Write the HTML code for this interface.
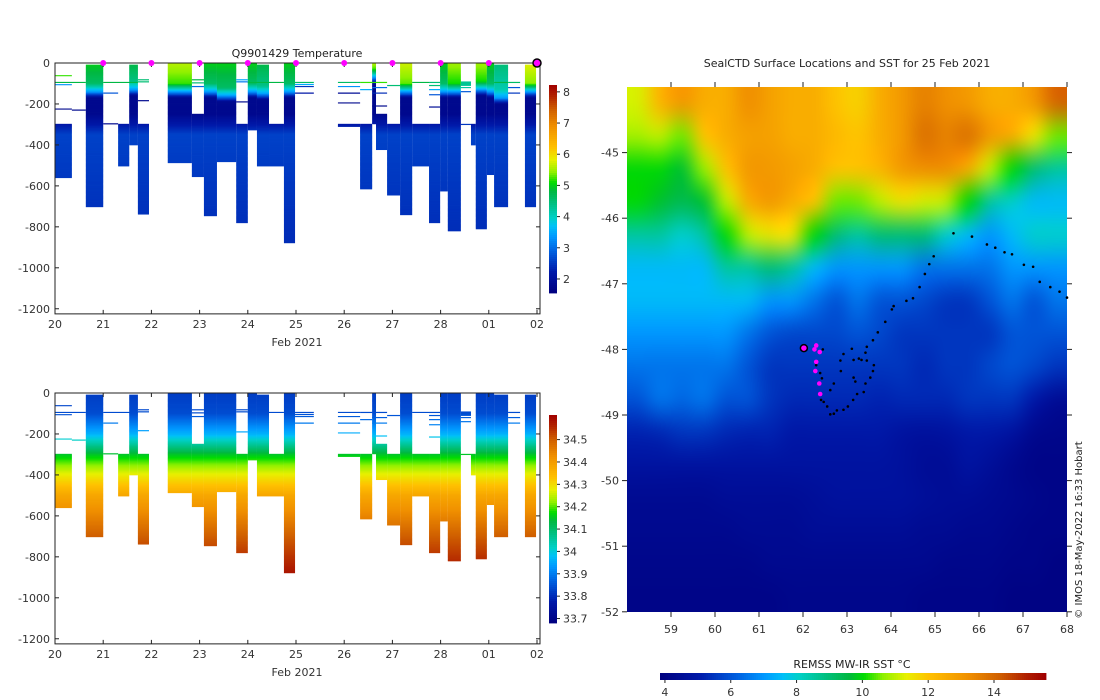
<!DOCTYPE html>
<html><head><meta charset="utf-8"><style>
html,body{margin:0;padding:0;background:#fff;}
svg{display:block;font-family:"DejaVu Sans","Liberation Sans",sans-serif;}
</style></head><body>
<svg id="s" width="1100" height="700" xmlns="http://www.w3.org/2000/svg"></svg>
<script>
// ---------- DATA ----------
const dayTicks=["20","21","22","23","24","25","26","27","28","01","02"];
const depthTicks=[0,-200,-400,-600,-800,-1000,-1200];
const tempTicks=[2,3,4,5,6,7,8];
const salTicks=[33.7,33.8,33.9,34,34.1,34.2,34.3,34.4,34.5];
const sstTicks=[4,6,8,10,12,14];
const lonTicks=[59,60,61,62,63,64,65,66,67,68];
const latTicks=[-45,-46,-47,-48,-49,-50,-51,-52];
// profile columns: start day, end day, top depth, bottom depth, surface temp, mixed layer depth
const colStart=[0.01,0.64,1.31,1.54,1.72,2.34,2.84,3.09,3.36,3.76,4.0,4.19,4.44,4.75,5.87,6.33,6.58,6.66,6.89,7.16,7.41,7.76,7.99,8.15,8.42,8.63,8.73,8.96,9.11,9.75];
const colEnd=[0.35,1.0,1.54,1.72,1.95,2.84,3.09,3.36,3.76,4.0,4.19,4.44,4.75,4.98,6.33,6.58,6.66,6.89,7.16,7.41,7.76,7.99,8.15,8.42,8.63,8.73,8.96,9.11,9.40,9.98];
const colTop=[297,8,297,8,297,0,248,0,0,297,0,8,297,0,297,297,0,248,297,0,297,297,0,0,90,297,0,0,8,8];
const colBot=[560,702,503,400,738,487,555,746,482,780,327,503,503,878,310,615,297,423,645,741,503,780,625,820,110,400,810,545,702,702];
const colSurfT=[2.4,5.0,2.4,4.8,2.4,5.6,2.4,5.0,5.0,2.4,5.0,4.8,2.4,5.0,2.4,2.4,5.6,2.4,2.4,5.7,2.4,2.4,5.0,5.5,4.5,2.4,5.5,5.0,4.5,5.8];
const colMld=[100,100,100,90,100,100,100,100,120,100,100,110,100,100,100,100,30,100,100,100,100,100,100,100,200,100,90,100,130,100];
// partial profiles (thin lines): start day, end day, depth, temp
const lnStart=[0.01,0.01,0.01,0.35,0.01,1.0,1.0,1.0,1.72,1.72,1.72,2.84,2.84,2.84,3.76,3.76,3.76,4.0,4.98,4.98,4.98,4.98,5.87,5.87,5.87,5.87,6.33,6.33,6.58,6.58,6.58,6.58,6.89,7.41,7.76,7.76,7.76,7.76,7.76,8.42,8.42,8.42,9.11,9.40,9.40,9.40];
const lnEnd=[0.35,0.64,0.35,0.64,0.35,1.31,1.72,1.31,1.95,1.95,1.95,3.09,3.09,3.09,4.0,4.0,4.0,4.75,5.37,5.37,5.37,5.37,6.33,6.33,6.33,6.33,6.58,6.58,6.89,6.89,6.89,6.89,7.16,7.76,7.99,7.99,7.99,7.99,7.99,8.63,8.63,8.63,9.40,9.65,9.65,9.65];
const lnDepth=[62,95,106,230,225,147,95,297,82,92,184,82,97,115,82,92,190,95,95,105,115,147,95,115,147,195,130,95,95,120,147,210,110,95,95,110,130,155,215,120,140,300,95,95,120,147];
const lnTemp=[5.2,4.8,3.3,1.8,1.8,2.8,4.8,1.8,4.5,4.5,1.8,4.8,4.5,3.0,3.5,3.1,1.8,4.8,4.6,3.5,2.5,2.2,4.6,3.3,1.9,1.8,3.5,5.2,5.2,3.0,2.4,1.8,4.5,4.8,4.5,4.5,3.5,2.8,1.9,4.2,2.8,2.5,4.8,4.6,2.8,2.5];
// salinity structure
const salDepth=[0,100,200,300,400,500,700,880];
const salVal=[33.82,33.84,33.96,34.15,34.28,34.38,34.5,34.58];
const markDays=[1,2,3,4,5,6,7,8,9];
const lastDay=[10];
// SST grid rows lat -44.25..-51.75, cols lon 58.25..67.75
const sst=[
[11.2,12.3,13,12.5,12.5,13.2,12.8,12.5,12.5,12,11.8,12.5,13,13.5,13.2,13,12.5,12.5,13,14],
[10.8,11,10.5,12,12.5,12.8,12.8,12.5,12.5,12.2,12,12.5,13,13.8,13.5,13.8,13,12.5,11.5,10.5],
[10,10,9.7,10.7,12,13,13,12.8,12.5,12,12,12.3,13,13.2,13.2,12.5,11,10,9,8.5],
[10,9.7,9.4,9.7,11,12.5,13,12.5,12,10.5,10.5,11,11.5,11.2,11,10,8.5,8,7.5,7.5],
[8.5,8.5,8,8.5,10,11,11.5,11.5,10,9,8.5,9,9,9,8,7.5,7,7.5,8,8],
[7.5,7.5,7.5,7.5,8.5,8.5,9,8.5,7.5,7,7,7,7,6.5,6.5,6.5,6.5,7,7,7],
[7.5,7.5,7.5,7.5,7.5,7.5,7,7,6.5,6,6.5,6,6,5.8,5.5,5.5,6,6.5,6,6.5],
[7,7,7,7,7,6.5,6,5.8,5.8,5.8,6,5.8,5.5,5.5,5.5,5.5,5.5,6,6,6],
[6.5,6.5,6.5,6.5,6.5,6,5.5,5.5,5.5,5.5,5.5,5.5,5.5,5.3,5.5,5.5,5.8,6,5.8,5.5],
[6,6.5,6.3,6.5,6,6,5.5,5.3,5.3,5.3,5.3,5.2,5.3,5.3,5.3,5.5,5.5,5.5,5,4.5],
[5.2,5.3,5.5,5.5,5.3,5.2,5.2,5,5,5,5,5,4.8,4.7,4.8,5,5,4.8,4.3,4.2],
[4.8,4.8,4.8,4.8,4.8,4.8,4.8,4.8,4.8,4.8,4.8,4.8,4.7,4.5,4.5,4.8,4.6,4.3,4.1,4.1],
[4.4,4.4,4.4,4.4,4.5,4.5,4.5,4.5,4.6,4.7,4.7,4.7,4.7,4.6,4.5,4.5,4.4,4.3,4.2,4.1],
[4.3,4.3,4.3,4.3,4.3,4.4,4.4,4.4,4.5,4.5,4.5,4.5,4.5,4.4,4.4,4.3,4.3,4.2,4.1,4.1],
[4.2,4.2,4.2,4.2,4.2,4.2,4.3,4.3,4.3,4.3,4.3,4.3,4.3,4.3,4.2,4.2,4.2,4.1,4.1,4.0],
[4.1,4.1,4.1,4.1,4.1,4.1,4.1,4.2,4.2,4.2,4.2,4.2,4.2,4.1,4.1,4.1,4.1,4.0,4.0,4.0]];
const trackLon=[65.42,65.84,66.18,66.37,66.58,66.75,67.02,67.23,67.38,67.62,67.83,68.0,64.97,64.87,64.77,64.65,64.50,64.35,64.06,64.02,63.87,63.70,63.59,63.45,63.42,63.33,63.11,62.92,62.85,62.86,63.15,63.27,63.45,63.61,63.59,63.53,63.42,63.38,63.23,63.14,63.02,62.92,62.77,62.70,62.62,62.55,62.47,62.41,62.62,62.70,62.43,62.39,62.30,62.45,63.15,63.19];
const trackLat=[-46.23,-46.28,-46.40,-46.45,-46.52,-46.55,-46.71,-46.74,-46.97,-47.05,-47.12,-47.21,-46.58,-46.70,-46.85,-47.05,-47.22,-47.26,-47.34,-47.39,-47.58,-47.74,-47.86,-47.96,-48.05,-48.16,-47.99,-48.07,-48.17,-48.33,-48.16,-48.14,-48.17,-48.24,-48.33,-48.43,-48.52,-48.65,-48.68,-48.77,-48.87,-48.92,-48.93,-48.98,-48.99,-48.87,-48.80,-48.77,-48.62,-48.52,-48.44,-48.36,-48.24,-48.00,-48.43,-48.49];
const magLon=[62.30,62.26,62.38,62.30,62.28,62.37,62.39];
const magLat=[-47.94,-48.00,-48.04,-48.19,-48.33,-48.52,-48.68];
const lastLon=[62.02], lastLat=[-47.98];

// ---------- HELPERS ----------
const NS="http://www.w3.org/2000/svg";
const svg=document.getElementById('s');
function el(tag,attrs,parent){const e=document.createElementNS(NS,tag);for(const k in attrs)e.setAttribute(k,attrs[k]);(parent||svg).appendChild(e);return e;}
const stops=[[0,[0,0,127]],[0.1,[0,24,168]],[0.2,[0,96,224]],[0.27,[0,152,255]],[0.32,[0,192,248]],[0.36,[0,208,200]],[0.43,[0,192,128]],[0.49,[0,184,64]],[0.53,[0,220,0]],[0.58,[144,240,0]],[0.64,[232,240,0]],[0.70,[255,192,0]],[0.8,[240,144,0]],[0.88,[208,96,0]],[0.95,[176,32,0]],[1,[160,0,0]]];
function cmapRGB(t){t=Math.max(0,Math.min(1,t));for(let i=1;i<stops.length;i++){if(t<=stops[i][0]){const a=stops[i-1],b=stops[i];const f=(t-a[0])/(b[0]-a[0]);return a[1].map((v,j)=>Math.round(v+(b[1][j]-v)*f));}}return stops[stops.length-1][1];}
function cmap(t){const c=cmapRGB(t);return `rgb(${c[0]},${c[1]},${c[2]})`;}
function interp(xs,ys,x){if(x<=xs[0])return ys[0];for(let i=1;i<xs.length;i++){if(x<=xs[i]){const f=(x-xs[i-1])/(xs[i]-xs[i-1]);return ys[i-1]+(ys[i]-ys[i-1])*f;}}return ys[ys.length-1];}
function tempAt(z,sT,mld){
  if(z<mld) return sT-0.4*z/mld;
  if(z<mld+40) return (sT-0.4)+(3.4-(sT-0.4))*(z-mld)/40;
  if(z<mld+70) return 3.4+(1.8-3.4)*(z-mld-40)/30;
  if(z<250) return 1.8;
  if(z<350) return 1.8+0.8*(z-250)/100;
  return 2.6-0.2*Math.min(1,(z-350)/500);
}
function txt(x,y,s,attrs,parent){const t=el('text',Object.assign({x:x,y:y,'font-size':11,fill:'#333'},attrs||{}),parent);t.textContent=s;return t;}

// ---------- DEPTH CHARTS ----------
const X0=55,XPD=48.2;
function xDay(d){return X0+d*XPD;}
function makeChart(top,kind,name){
  const g=el('g',{});
  
  
  const yD=z=>top+z*0.2048;
  const tmin=kind==='T'?1.55:33.68, tmax=kind==='T'?8.22:34.61;
  const val=(z,i)=>kind==='T'?tempAt(z,colSurfT[i],colMld[i]):interp(salDepth,salVal,z);
  for(let i=0;i<colStart.length;i++){
    const cg=el('g',{},g);
    
    
    const x0=xDay(colStart[i]),x1=xDay(colEnd[i]);
    for(let z=colTop[i];z<colBot[i];z+=6){
      const z2=Math.min(z+6,colBot[i]);
      el('rect',{x:x0,y:yD(z),width:x1-x0,height:yD(z2)-yD(z)+0.4,fill:cmap((val(z+3,i)-tmin)/(tmax-tmin))},cg);
    }
  }
  for(let i=0;i<lnStart.length;i++){
    const v=kind==='T'?lnTemp[i]:interp(salDepth,salVal,lnDepth[i]);
    const l=el('line',{x1:xDay(lnStart[i]),x2:xDay(lnEnd[i]),y1:yD(lnDepth[i]),y2:yD(lnDepth[i]),stroke:cmap((v-tmin)/(tmax-tmin)),'stroke-width':1.2},g);
    
    
  }
  const bottom=yD(1225);
  const box=el('rect',{x:X0,y:top,width:485,height:bottom-top,fill:'none',stroke:'#222','stroke-width':1},g);
  
  
  depthTicks.forEach(v=>{const y=yD(-v);
    el('line',{x1:X0,x2:X0+4,y1:y,y2:y,stroke:'#222'},g);el('line',{x1:540,x2:536,y1:y,y2:y,stroke:'#222'},g);
    const t=txt(50,y+4,String(v),{'text-anchor':'end'},g);});
  dayTicks.forEach((s,i)=>{const x=xDay(i);
    el('line',{x1:x,x2:x,y1:bottom,y2:bottom-4,stroke:'#222'},g);el('line',{x1:x,x2:x,y1:top,y2:top+4,stroke:'#222'},g);
    const t=txt(x,bottom+14,s,{'text-anchor':'middle'},g);});
  const xt=txt(297,bottom+32,'Feb 2021',{'text-anchor':'middle'},g);
  
  const cbTop=top+22,cbH=208,cx=549;
  for(let k=0;k<cbH;k+=2){el('rect',{x:cx,y:cbTop+k,width:8,height:2.4,fill:cmap(1-(k+1)/cbH)},g);}
  const ticks=kind==='T'?tempTicks:salTicks;
  ticks.forEach(v=>{const y=cbTop+cbH*(1-(v-tmin)/(tmax-tmin));
    el('line',{x1:cx+8,x2:cx+11,y1:y,y2:y,stroke:'#222'},g);
    const t=txt(cx+14,y+4,String(v),{},g);});
  return {g,yD};
}
makeChart(63,'T','temperature-chart');
makeChart(393,'S','salinity-chart');
const title1=txt(297,57,'Q9901429  Temperature',{'text-anchor':'middle','fill':'#222'});

markDays.forEach(d=>{const m=el('circle',{cx:xDay(d),cy:63,r:3,fill:'#ff00ff'});
  });
lastDay.forEach(d=>{const m=el('circle',{cx:xDay(d),cy:63,r:4,fill:'#ff00ff',stroke:'#000','stroke-width':1.5});
  });

// ---------- MAP ----------
const MX0=627,MY0=87,MW=440,MH=525;
const lonX=l=>MX0+(l-58)*44;
const latY=l=>MY0+(-44-l)*65.6;
const fo=el('foreignObject',{x:MX0,y:MY0,width:MW,height:MH});


const cv=document.createElement('canvas');cv.width=sst[0].length;cv.height=sst.length;
const ctx=cv.getContext('2d');const img=ctx.createImageData(cv.width,cv.height);
for(let r=0;r<sst.length;r++)for(let c=0;c<sst[0].length;c++){const rgb=cmapRGB((sst[r][c]-3.85)/11.7);const p=(r*cv.width+c)*4;img.data[p]=rgb[0];img.data[p+1]=rgb[1];img.data[p+2]=rgb[2];img.data[p+3]=255;}
ctx.putImageData(img,0,0);
const big=document.createElement('canvas');big.width=MW;big.height=MH;const bctx=big.getContext('2d');
bctx.imageSmoothingEnabled=true;bctx.imageSmoothingQuality='high';
bctx.drawImage(cv,0,0,cv.width,cv.height,0,0,MW,MH);
big.style.display='block';
fo.appendChild(big);
for(let i=0;i<trackLon.length;i++){const d=el('circle',{cx:lonX(trackLon[i]),cy:latY(trackLat[i]),r:1.3,fill:'#000'});
  }
for(let i=0;i<magLon.length;i++){const d=el('circle',{cx:lonX(magLon[i]),cy:latY(magLat[i]),r:2.3,fill:'#ff00ff'});
  }
for(let i=0;i<lastLon.length;i++){const d=el('circle',{cx:lonX(lastLon[i]),cy:latY(lastLat[i]),r:3.5,fill:'#ff00ff',stroke:'#000','stroke-width':1.5});
  }
lonTicks.forEach(v=>{const x=lonX(v);
  el('line',{x1:x,x2:x,y1:MY0,y2:MY0-5,stroke:'#222'});el('line',{x1:x,x2:x,y1:MY0+MH,y2:MY0+MH+5,stroke:'#222'});
  const t=txt(x,633,String(v),{'text-anchor':'middle'});});
latTicks.forEach(v=>{const y=latY(v);
  el('line',{x1:MX0,x2:MX0-5,y1:y,y2:y,stroke:'#222'});el('line',{x1:MX0+MW,x2:MX0+MW+5,y1:y,y2:y,stroke:'#222'});
  const t=txt(619,y+4,String(v),{'text-anchor':'end'});});
const mt=txt(847,67,'SealCTD Surface Locations and SST for 25 Feb 2021',{'text-anchor':'middle','fill':'#222'});

const cr=txt(0,0,'© IMOS 18-May-2022 16:33 Hobart',{'text-anchor':'middle','font-size':10,'fill':'#222',transform:'translate(1082,530) rotate(-90)'});

const cbx=660,cbw=385,cby=673;
const cbg=el('g',{});


for(let k=0;k<cbw;k+=2){el('rect',{x:cbx+k,y:cby,width:2.4,height:7,fill:cmap((k+1)/cbw)},cbg);}
sstTicks.forEach(v=>{const x=cbx+(v-3.85)/11.7*cbw;
  el('line',{x1:x,x2:x,y1:cby+7,y2:cby+10,stroke:'#222'},cbg);
  const t=txt(x,696,String(v),{'text-anchor':'middle'},cbg);});
const ct=txt(852,668,'REMSS MW-IR SST °C',{'text-anchor':'middle','fill':'#222'});

</script>
</body></html>
